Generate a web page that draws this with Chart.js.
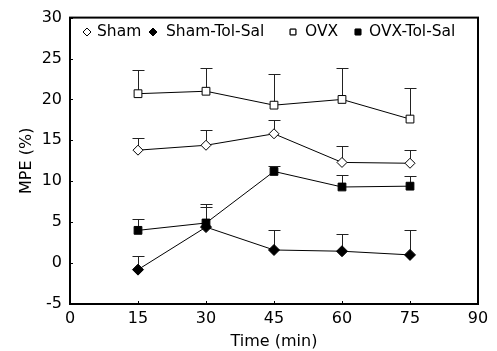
<!DOCTYPE html>
<html>
<head>
<meta charset="utf-8">
<script src="https://cdn.jsdelivr.net/npm/chart.js@4"></script>
<style>html,body{margin:0;padding:0;background:#fff}</style>
</head>
<body>
<canvas id="chart" width="497" height="351"></canvas>
<script>
const times = [15, 30, 45, 60, 75];
const sham = [13.8, 14.4, 15.8, 12.3, 12.2];
const shamErr = [1.5, 1.9, 1.7, 2.0, 1.6];
const shamTolSal = [-0.8, 4.4, 1.6, 1.45, 1.0];
const shamTolSalErr = [1.7, 2.4, 2.5, 2.1, 3.0];
const ovx = [20.7, 21.0, 19.3, 20.0, 17.6];
const ovxErr = [2.9, 2.9, 3.8, 3.9, 3.8];
const ovxTolSal = [4.0, 4.9, 11.2, 9.3, 9.4];
const ovxTolSalErr = [1.4, 2.3, 0.7, 1.5, 1.2];
const xTicks = [0, 15, 30, 45, 60, 75, 90];
const yTicks = [-5, 0, 5, 10, 15, 20, 25, 30];

const FONT = 'DejaVu Sans';

const toPoints = (vals) => vals.map((v, i) => ({ x: times[i], y: v }));

function series(label, vals, errs, style, fill, radius) {
  return {
    label,
    data: toPoints(vals),
    errors: errs,
    borderColor: '#000',
    borderWidth: 1,
    pointStyle: style,
    pointRadius: radius,
    pointHoverRadius: radius,
    pointBackgroundColor: fill,
    pointBorderColor: '#000',
    pointBorderWidth: 1,
    tension: 0
  };
}

// upper error bars, drawn under the markers
const errorBars = {
  id: 'errorBars',
  beforeDatasetsDraw(chart) {
    const { ctx, scales: { x, y } } = chart;
    ctx.save();
    ctx.strokeStyle = '#222';
    ctx.lineWidth = 1;
    chart.data.datasets.forEach(ds => {
      ds.data.forEach((p, i) => {
        const px = Math.round(x.getPixelForValue(p.x)) + 0.5;
        const y0 = y.getPixelForValue(p.y);
        const y1 = Math.round(y.getPixelForValue(p.y + ds.errors[i])) + 0.5;
        ctx.beginPath();
        ctx.moveTo(px, y0);
        ctx.lineTo(px, y1);
        ctx.moveTo(px - 6, y1);
        ctx.lineTo(px + 6, y1);
        ctx.stroke();
      });
    });
    ctx.restore();
  }
};

// box round the plot and small inner ticks
const frame = {
  id: 'frame',
  afterDraw(chart) {
    const { ctx, chartArea: a, scales: { x, y } } = chart;
    ctx.save();
    ctx.strokeStyle = '#000';
    ctx.lineWidth = 2;
    ctx.strokeRect(a.left, a.top, a.right - a.left, a.bottom - a.top);
    ctx.lineWidth = 1;
    ctx.beginPath();
    xTicks.forEach(t => {
      const px = Math.round(x.getPixelForValue(t)) + 0.5;
      ctx.moveTo(px, a.bottom);
      ctx.lineTo(px, a.bottom - 3);
    });
    yTicks.forEach(t => {
      const py = Math.round(y.getPixelForValue(t)) + 0.5;
      ctx.moveTo(a.left, py);
      ctx.lineTo(a.left + 3, py);
    });
    ctx.stroke();
    ctx.restore();
  }
};

// legend inside the plot, along the top
const innerLegend = {
  id: 'innerLegend',
  afterDraw(chart) {
    const { ctx } = chart;
    const spots = [[87, 97], [153, 166], [293, 305], [358, 369]];
    ctx.save();
    ctx.font = '15.5px "' + FONT + '"';
    ctx.textBaseline = 'middle';
    chart.data.datasets.forEach((ds, i) => {
      const [mx, tx] = spots[i];
      Chart.helpers.drawPoint(ctx, {
        pointStyle: ds.pointStyle,
        radius: 4,
        borderWidth: 1
      }, mx, 32);
      ctx.fillStyle = ds.pointBackgroundColor;
      ctx.strokeStyle = '#000';
      ctx.lineWidth = 1;
      ctx.fill();
      ctx.stroke();
      ctx.fillStyle = '#000';
      ctx.fillText(ds.label, tx, 32);
    });
    ctx.restore();
  }
};

new Chart(document.getElementById('chart'), {
  type: 'line',
  data: {
    datasets: [
      series('Sham', sham, shamErr, 'rectRot', '#fff', 5),
      series('Sham-Tol-Sal', shamTolSal, shamTolSalErr, 'rectRot', '#000', 5.5),
      series('OVX', ovx, ovxErr, 'rect', '#fff', 5.5),
      series('OVX-Tol-Sal', ovxTolSal, ovxTolSalErr, 'rect', '#000', 5.5)
    ]
  },
  options: {
    responsive: false,
    animation: false,
    layout: { padding: { top: 15, right: 19, left: 0, bottom: 0 } },
    plugins: { legend: { display: false }, tooltip: { enabled: false } },
    scales: {
      x: {
        type: 'linear',
        min: 0,
        max: 90,
        afterBuildTicks: s => { s.ticks = xTicks.map(v => ({ value: v })); },
        afterFit: s => { s.height = 47; },
        grid: { display: false, drawTicks: false },
        border: { display: false },
        ticks: { color: '#000', font: { family: FONT, size: 16 }, padding: 5, maxRotation: 0 },
        title: { display: true, text: 'Time (min)', color: '#000', font: { family: FONT, size: 16 }, padding: { top: 0, bottom: 0 } }
      },
      y: {
        min: -5,
        max: 30,
        afterBuildTicks: s => { s.ticks = yTicks.map(v => ({ value: v })); },
        afterFit: s => { s.width = 70; },
        grid: { display: false, drawTicks: false },
        border: { display: false },
        ticks: { color: '#000', font: { family: FONT, size: 16 }, padding: 8 },
        title: { display: true, text: 'MPE (%)', color: '#000', font: { family: FONT, size: 16 }, padding: { top: 17, bottom: 0 } }
      }
    }
  },
  plugins: [errorBars, frame, innerLegend]
});
</script>
</body>
</html>
